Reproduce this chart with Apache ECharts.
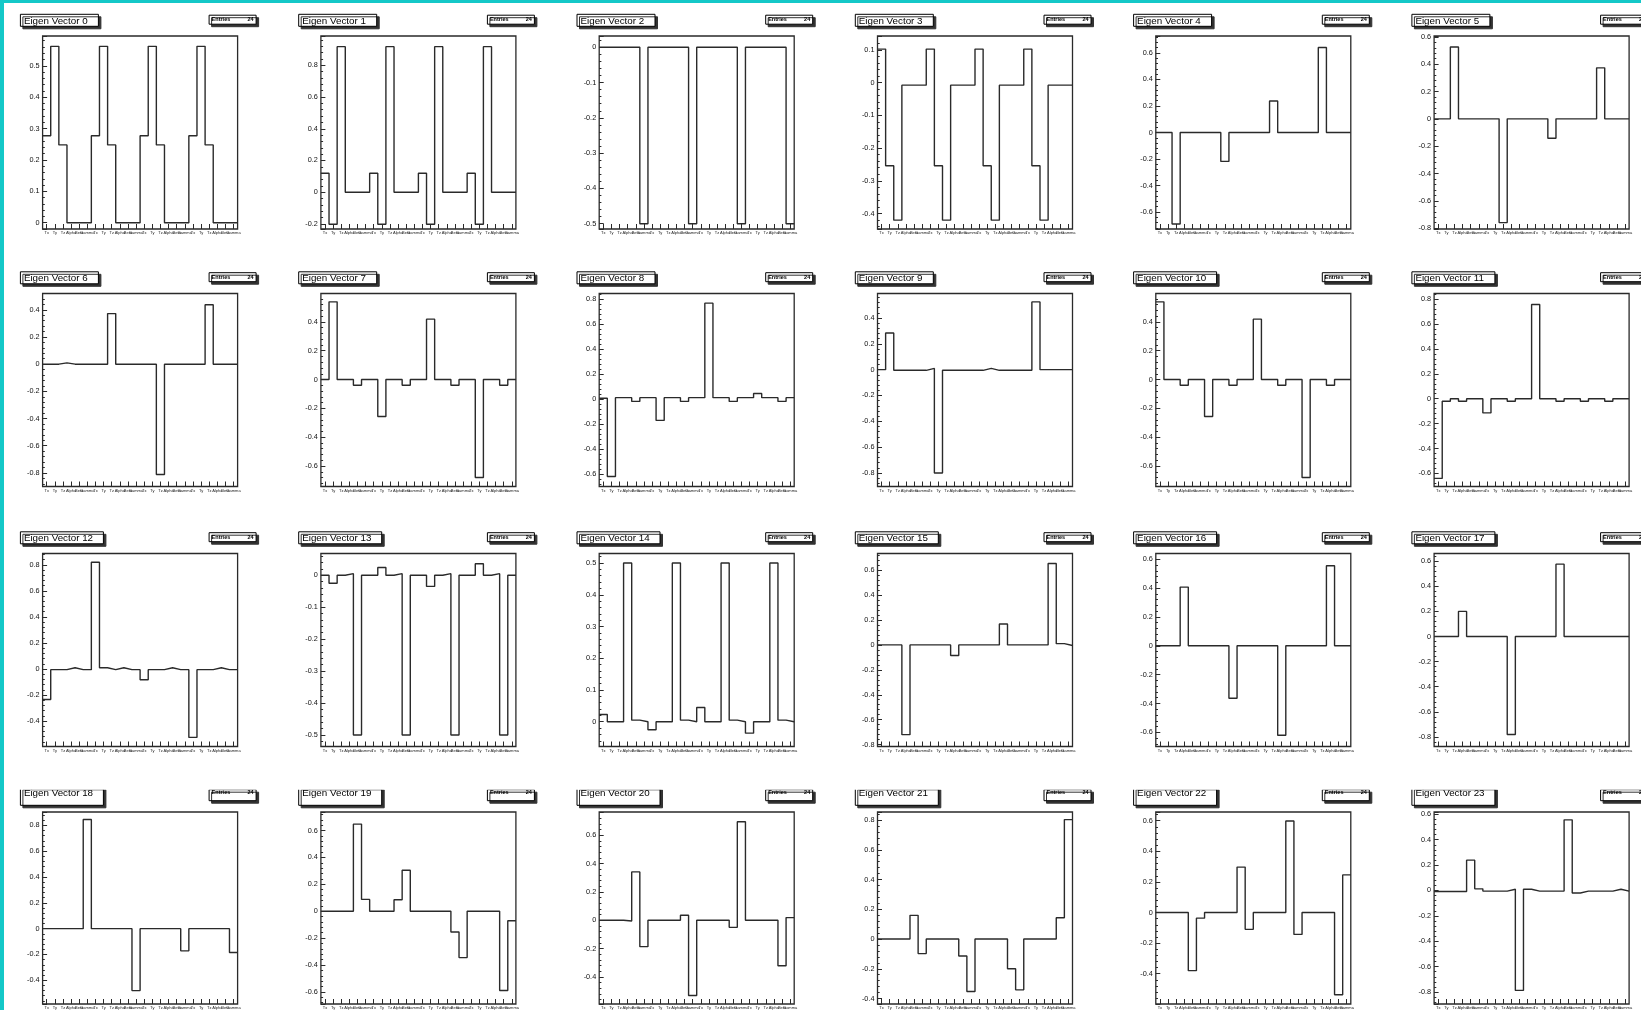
<!DOCTYPE html>
<html><head><meta charset="utf-8">
<script src="https://cdn.jsdelivr.net/npm/echarts@6/dist/echarts.min.js"></script>
<style>
html,body{margin:0;padding:0;background:#fff;}
#wrap{position:relative;width:1641px;height:1010px;overflow:hidden;background:#fff;}
#chart{position:absolute;left:0;top:0;width:1641px;height:1010px;}
.cy{position:absolute;background:#14c8c8;}
</style></head><body>
<div id="wrap"><div id="chart"></div>
<div class="cy" style="left:0;top:0;width:4px;height:1010px"></div>
<div class="cy" style="left:0;top:0;width:1641px;height:3px"></div></div>
<script>
// bin labels (x axis)
const binLabels = ["Tx","Ty","Tz","Alpha","Beta","Gamma","Tx","Ty","Tz","Alpha","Beta","Gamma",
                   "Tx","Ty","Tz","Alpha","Beta","Gamma","Tx","Ty","Tz","Alpha","Beta","Gamma"];
// eigen vector components, 24 bins each
const ev0  = [0.277,0.562,0.248,0,0,0, 0.277,0.562,0.248,0,0,0, 0.277,0.562,0.248,0,0,0, 0.277,0.562,0.248,0,0,0];
const ev1  = [0.12,-0.202,0.918,0,0,0, 0.12,-0.202,0.918,0,0,0, 0.12,-0.202,0.918,0,0,0, 0.12,-0.202,0.918,0,0,0];
const ev2  = [0,0,0,0,0,-0.5, 0,0,0,0,0,-0.5, 0,0,0,0,0,-0.5, 0,0,0,0,0,-0.5];
const ev3  = [0.102,-0.254,-0.42,-0.008,-0.008,-0.008, 0.102,-0.254,-0.42,-0.008,-0.008,-0.008, 0.102,-0.254,-0.42,-0.008,-0.008,-0.008, 0.102,-0.254,-0.42,-0.008,-0.008,-0.008];
const ev4  = [0,0,-0.69,0,0,0, 0,0,-0.218,0,0,0, 0,0,0.238,0,0,0, 0,0,0.641,0,0,0];
const ev5  = [0,0,0.525,0,0,0, 0,0,-0.759,0,0,0, 0,0,-0.142,0,0,0, 0,0,0.373,0,0,0];
const ev6  = [0,0,0.01,0,0,0, 0,0,0.372,0,0,0, 0,0,-0.812,0,0,0, 0,0,0.437,0,0,0];
const ev7  = [0,0.539,0,0,-0.04,0, 0,-0.256,0,0,-0.04,0, 0,0.419,0,0,-0.04,0, 0,-0.68,0,0,-0.04,0];
const ev8  = [0.005,-0.62,0.01,0.01,-0.02,0.01, 0.01,-0.172,0.01,0.01,-0.02,0.01, 0.01,0.765,0.01,0.01,-0.02,0.01, 0.01,0.043,0.01,0.01,-0.02,0.01];
const ev9  = [0,0.284,-0.005,-0.005,-0.005,-0.005, 0.01,-0.8,-0.005,-0.005,-0.005,-0.005, -0.005,0.01,-0.005,-0.005,-0.005,-0.005, -0.005,0.525,0,0,0,0];
const ev10 = [0.539,0,0,-0.04,0,0, -0.256,0,0,-0.04,0,0, 0.419,0,0,-0.04,0,0, -0.68,0,0,-0.04,0,0];
const ev11 = [-0.64,-0.02,0,-0.02,0,0, -0.114,0,0,-0.02,0,0, 0.757,0,0,-0.02,0,0, -0.02,0,0,-0.02,0,0];
const ev12 = [-0.234,-0.005,-0.005,0.01,-0.005,-0.005, 0.82,0.01,-0.005,0.01,-0.005,-0.005, -0.083,-0.005,-0.005,0.01,-0.005,-0.005, -0.525,-0.005,-0.005,0.01,-0.005,-0.005];
const ev13 = [0,-0.025,0,0.005,-0.5,0, 0,0.024,0,0.005,-0.5,0, 0,-0.035,0,0.005,-0.5,0, 0,0.036,0,0.005,-0.5,0];
const ev14 = [0.023,0,0,0.5,0.005,0, -0.025,0,0,0.5,0.005,0, 0.045,0,0,0.5,0.005,0, -0.036,0,0,0.5,0.005,0];
const ev15 = [0,0,0,-0.72,0,0, 0,0,0,-0.085,0,0, 0,0,0,0.168,0,0, 0,0,0,0.653,0.01,-0.005];
const ev16 = [0,0,0,0.407,0,0, 0,0,0,-0.364,0,0, 0,0,0,-0.62,0,0, 0,0,0,0.555,0,0];
const ev17 = [0,0,0,0.2,0,0, 0,0,0,-0.78,0,0, 0,0,0,0.576,0,0, 0,0,0,0,0,0];
const ev18 = [0,0,0,0,0,0.846, 0,0,0,0,0,-0.48, 0,0,0,0,0,-0.172, 0,0,0,0,0,-0.185];
const ev19 = [0,0,0,0,0.648,0.088, 0,0,0,0.085,0.305,0, 0,0,0,0,-0.155,-0.345, 0,0,0,0,-0.59,-0.071];
const ev20 = [0,0,0,-0.005,0.341,-0.186, 0,0,0,0,0.035,-0.53, 0,0,0,0,-0.05,0.694, 0,0,0,0,-0.32,0.019];
const ev21 = [0,0,0,0,0.159,-0.098, 0,0,0,0,-0.114,-0.353, 0,0,0,0,-0.2,-0.342, 0,0,0,0,0.143,0.803];
const ev22 = [0,0,0,0,-0.38,-0.037, 0,0,0,0,0.297,-0.11, 0,0,0,0,0.598,-0.143, 0,0,0,0,-0.538,0.246];
const ev23 = [-0.008,-0.008,-0.008,-0.008,0.239,0.013, -0.005,-0.005,-0.005,0.01,-0.787,0.01, -0.005,-0.005,-0.005,-0.005,0.556,-0.02, -0.005,-0.005,-0.005,-0.005,0.01,-0.005];
// y axis ranges and label steps per panel
const yMin  = [-0.02,-0.232,-0.515,-0.447,-0.728,-0.806, -0.9,-0.742,-0.7,-0.905,-0.742,-0.705, -0.595,-0.536,-0.078,-0.815,-0.698,-0.876, -0.584,-0.69,-0.59,-0.437,-0.598,-0.894];
const yMax  = [0.595,0.985,0.032,0.142,0.728,0.606, 0.52,0.597,0.842,0.59,0.597,0.845, 0.887,0.068,0.53,0.733,0.64,0.661, 0.904,0.738,0.763,0.854,0.657,0.618];
const yStep = [0.1,0.2,0.1,0.1,0.2,0.2, 0.2,0.2,0.2,0.2,0.2,0.2, 0.2,0.1,0.1,0.2,0.2,0.2, 0.2,0.2,0.2,0.2,0.2,0.2];
const entries = 24;

const vectors = [ev0,ev1,ev2,ev3,ev4,ev5,ev6,ev7,ev8,ev9,ev10,ev11,ev12,ev13,ev14,ev15,ev16,ev17,ev18,ev19,ev20,ev21,ev22,ev23];

const FONT = '"Liberation Sans", Arial, Helvetica, sans-serif';
const LINE = '#2a2a2a';
const colLeft = c => 42.6 + 278.3 * c;
const rowTops = [36, 293.5, 553.5, 812];
const FW = 195, FH = 193;

const grid = [], xAxis = [], yAxis = [], series = [], title = [];
vectors.forEach((vals, g) => {
  const c = g % 6, r = Math.floor(g / 6);
  const L = colLeft(c), T = rowTops[r];
  const clipped = (r === 3);
  grid.push({left: L, top: T, width: FW, height: FH, show: true, borderColor: LINE, borderWidth: 1.3, backgroundColor: '#fff', containLabel: false});
  xAxis.push({type: 'value', gridIndex: g, min: 0, max: 24, show: false});
  xAxis.push({type: 'category', gridIndex: g, data: binLabels, position: 'bottom', boundaryGap: true,
    axisLine: {show: false},
    axisTick: {show: true, inside: true, length: 5, alignWithLabel: true, lineStyle: {color: LINE, width: 1}},
    axisLabel: {interval: 0, fontSize: 4, margin: 2, color: '#222', fontFamily: FONT},
    splitLine: {show: false}});
  yAxis.push({type: 'value', gridIndex: g, min: yMin[g], max: yMax[g], minInterval: yStep[g], maxInterval: yStep[g], splitNumber: 5,
    axisLine: {show: false},
    axisTick: {show: true, inside: true, length: 4.5, lineStyle: {color: LINE, width: 1}},
    minorTick: {show: true, splitNumber: 5, length: 2.2, lineStyle: {color: LINE, width: 1}},
    splitLine: {show: false},
    axisLabel: {fontSize: 7.3, margin: 3, color: '#111', fontFamily: FONT, showMinLabel: false, showMaxLabel: false}});
  const pts = vals.map((v, i) => [i, v]);
  pts.push([24, vals[vals.length - 1]]);
  series.push({type: 'line', xAxisIndex: 2 * g, yAxisIndex: g, step: 'end', data: pts, showSymbol: false,
    lineStyle: {color: LINE, width: 1.4}, silent: true, animation: false, clip: true});
  title.push({text: 'Eigen Vector ' + g, left: L - 22.7, top: T - 21.7,
    textStyle: {fontSize: 9.8, fontWeight: 'normal', color: '#000', fontFamily: FONT, lineHeight: clipped ? 4 : 10},
    padding: clipped ? [0.5, 11, 7.5, 4] : [1.5, 11, 1, 4], backgroundColor: '#fff', borderColor: '#000', borderWidth: 1,
    shadowColor: '#333', shadowOffsetX: 2.5, shadowOffsetY: 2.5, shadowBlur: 0});
  title.push({text: '{a|Entries}{b|' + entries + '}', left: L + 166, top: T - 21.3,
    textStyle: {fontSize: 5.5, color: '#000', fontFamily: FONT, lineHeight: clipped ? 3 : 6,
      rich: {a: {fontSize: 5.5, width: 32, fontFamily: FONT, lineHeight: clipped ? 3 : 6},
             b: {fontSize: 5.5, width: 10, align: 'right', fontFamily: FONT, lineHeight: clipped ? 3 : 6}}},
    padding: clipped ? [0.5, 3, 5.5, 3] : [2, 3, 1.5, 3], backgroundColor: '#fff', borderColor: '#000', borderWidth: 1,
    shadowColor: '#333', shadowOffsetX: 2.5, shadowOffsetY: 2.5, shadowBlur: 0});
});

// white band: the top of the bottom row's pads is cut off in the picture
const graphic = {elements: [{type: 'rect', z: 100, silent: true,
  shape: {x: 0, y: rowTops[3] - 33, width: 1641, height: 10.7}, style: {fill: '#fff'}}]};

const chart = echarts.init(document.getElementById('chart'), null, {renderer: 'canvas'});
chart.setOption({animation: false, backgroundColor: '#fff', title, grid, xAxis, yAxis, series, graphic});
</script>
</body></html>
